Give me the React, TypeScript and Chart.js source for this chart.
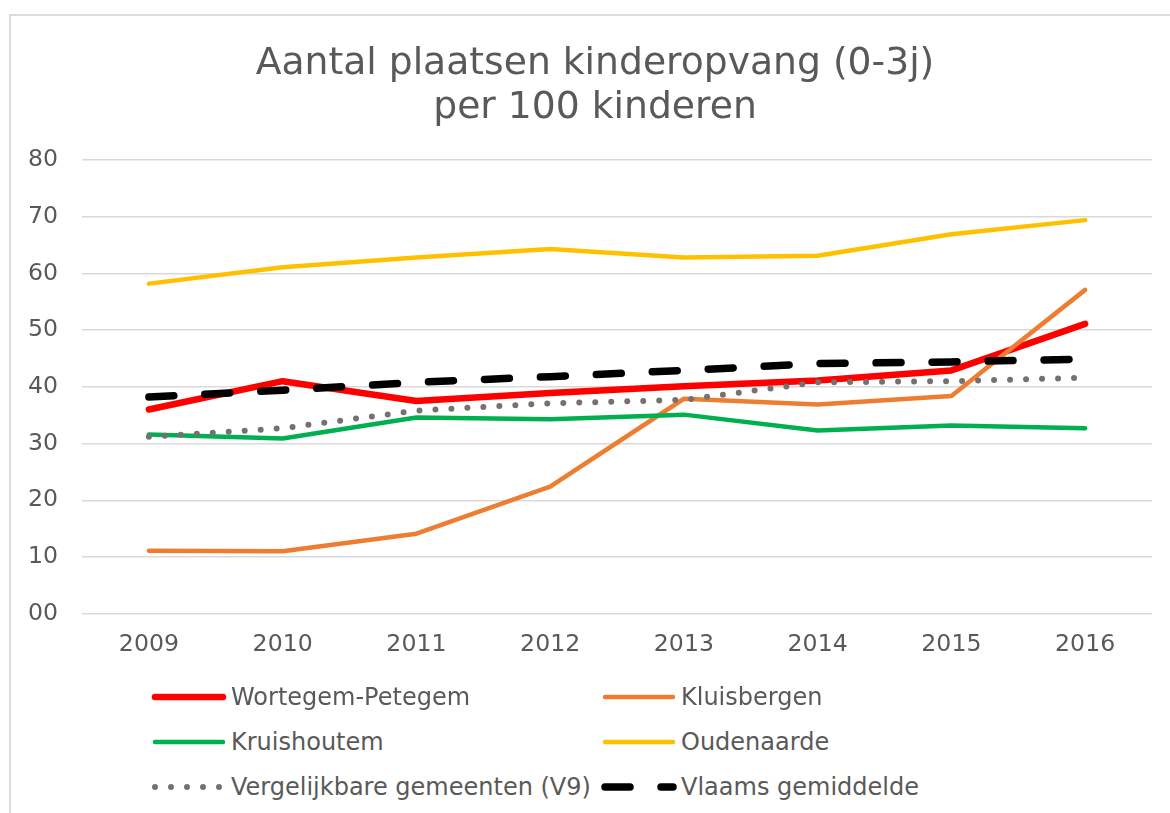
import React, { useEffect, useRef } from "react";
import { Chart, registerables } from "chart.js";

Chart.register(...registerables);

const categories = ["2009", "2010", "2011", "2012", "2013", "2014", "2015", "2016"];
const wortegemPetegem = [36.0, 41.0, 37.5, 38.9, 40.1, 41.1, 42.9, 51.1];
const kluisbergen = [11.1, 11.0, 14.1, 22.4, 37.9, 36.9, 38.4, 57.1];
const kruishoutem = [31.6, 30.9, 34.6, 34.3, 35.1, 32.3, 33.2, 32.7];
const oudenaarde = [58.2, 61.1, 62.8, 64.3, 62.8, 63.1, 66.9, 69.4];
const vergelijkbare = [31.2, 32.7, 35.8, 37.1, 37.7, 40.8, 41.0, 41.6];
const vlaams = [38.2, 39.4, 40.8, 41.8, 42.9, 44.1, 44.4, 44.9];
const yTickLabels = ["00", "10", "20", "30", "40", "50", "60", "70", "80"];
const titleLines = ["Aantal plaatsen kinderopvang (0-3j)", "per 100 kinderen"];

const FONT = "'DejaVu Sans', Verdana, sans-serif";
const TEXT = "#595959";

type Series = {
  label: string;
  data: number[];
  color: string;
  width: number;
  dash: number[];
};

const series: Series[] = [
  { label: "Wortegem-Petegem", data: wortegemPetegem, color: "#FF0000", width: 6.5, dash: [] },
  { label: "Kluisbergen", data: kluisbergen, color: "#ED7D31", width: 4.5, dash: [] },
  { label: "Kruishoutem", data: kruishoutem, color: "#00B050", width: 4.5, dash: [] },
  { label: "Oudenaarde", data: oudenaarde, color: "#FFC000", width: 4.5, dash: [] },
  { label: "Vergelijkbare gemeenten (V9)", data: vergelijkbare, color: "#767171", width: 6, dash: [0, 16] },
  { label: "Vlaams gemiddelde", data: vlaams, color: "#000000", width: 7.5, dash: [25, 31] },
];

function LegendItem({ s, left, top }: { s: Series; left: number; top: number }) {
  return (
    <div
      style={{
        position: "absolute",
        left,
        top: top - 20,
        height: 40,
        display: "flex",
        alignItems: "center",
        whiteSpace: "nowrap",
      }}
    >
      <svg width={76} height={40} style={{ display: "block" }}>
        <line
          x1={4}
          y1={20}
          x2={72}
          y2={20}
          stroke={s.color}
          strokeWidth={s.width}
          strokeLinecap="round"
          strokeDasharray={s.dash.length ? s.dash.join(" ") : undefined}
        />
      </svg>
      <span
        style={{
          fontFamily: FONT,
          fontSize: 24,
          color: TEXT,
          marginLeft: 4,
          lineHeight: "40px",
        }}
      >
        {s.label}
      </span>
    </div>
  );
}

export default function App() {
  const canvasRef = useRef<HTMLCanvasElement | null>(null);

  useEffect(() => {
    if (!canvasRef.current) return;
    const chart = new Chart(canvasRef.current, {
      type: "line",
      data: {
        labels: categories,
        datasets: series.map((s, i) => ({
          label: s.label,
          data: s.data,
          borderColor: s.color,
          backgroundColor: s.color,
          borderWidth: s.width,
          borderDash: s.dash,
          borderCapStyle: "round" as const,
          borderJoinStyle: "round" as const,
          pointRadius: 0,
          pointHoverRadius: 0,
          tension: 0,
          fill: false,
          order: series.length - 1 - i,
        })),
      },
      options: {
        animation: false,
        responsive: true,
        maintainAspectRatio: false,
        layout: { padding: { left: 4, right: 18, top: 160, bottom: 4 } },
        plugins: {
          legend: { display: false },
          tooltip: { enabled: false },
          title: { display: false },
        },
        scales: {
          x: {
            type: "category",
            offset: true,
            grid: { display: false, drawTicks: false },
            border: { display: false },
            ticks: {
              color: TEXT,
              font: { family: FONT, size: 23.6 },
              padding: 17,
              maxRotation: 0,
            },
          },
          y: {
            min: 0,
            max: 80,
            grid: { color: "#D9D9D9", lineWidth: 1.5, drawTicks: false },
            border: { display: false },
            ticks: {
              stepSize: 10,
              color: TEXT,
              font: { family: FONT, size: 23.6 },
              padding: 24,
              callback: (_v: any, index: number) => yTickLabels[index],
            },
          },
        },
      },
    });
    return () => chart.destroy();
  }, []);

  return (
    <div
      style={{
        position: "absolute",
        left: 0,
        top: 0,
        width: 1170,
        height: 813,
        overflow: "hidden",
        background: "#ffffff",
      }}
    >
      <div
        style={{
          position: "absolute",
          left: 9,
          top: 14,
          width: 1300,
          height: 1000,
          border: "2px solid #DCDCDC",
          boxSizing: "border-box",
        }}
      />
      <div style={{ position: "absolute", left: 0, top: 0, width: 1170, height: 680 }}>
        <canvas ref={canvasRef} />
      </div>
      <div
        style={{
          position: "absolute",
          left: 0,
          top: 39,
          width: 1190,
          textAlign: "center",
          fontFamily: FONT,
          fontSize: 37.7,
          lineHeight: "44px",
          color: TEXT,
          whiteSpace: "nowrap",
        }}
      >
        {titleLines.map((t) => (
          <div key={t}>{t}</div>
        ))}
      </div>
      <LegendItem s={series[0]} left={151} top={697} />
      <LegendItem s={series[1]} left={601} top={697} />
      <LegendItem s={series[2]} left={151} top={742} />
      <LegendItem s={series[3]} left={601} top={742} />
      <LegendItem s={series[4]} left={151} top={787} />
      <LegendItem s={series[5]} left={601} top={787} />
    </div>
  );
}
